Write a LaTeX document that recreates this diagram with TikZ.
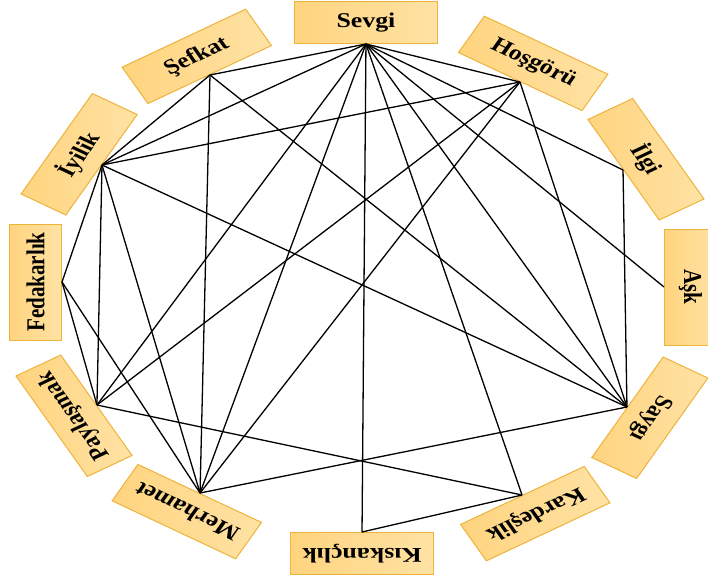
\documentclass[tikz,border=0pt]{standalone}
\usepackage{fontspec}
\setmainfont{Liberation Serif}
\definecolor{boxedge}{HTML}{EDB33B}
\definecolor{boxA}{HTML}{FFD47F}
\definecolor{boxB}{HTML}{FFE2A4}
\begin{document}
\begin{tikzpicture}[x=1pt,y=-1pt,
  lbl/.style={draw=boxedge, line width=1pt, left color=boxA, right color=boxB,
    minimum width=116pt, minimum height=42pt, inner sep=0pt, anchor=south,
    font=\fontsize{21}{21}\selectfont\bfseries, text=black},
  link/.style={line width=1.3pt, draw=black}]
\useasboundingbox (0,0) rectangle (708,580);
\begin{scope}[shift={(363,288)}, xscale=1.23, transform shape]
  \node[lbl, rotate=0]    (sev) at (2.4,-244)    {Sevgi};
  \node[lbl, rotate=-30]  (hos) at (127.6,-206)  {Hoşgörü};
  \node[lbl, rotate=-60]  (ilg) at (211.4,-118)  {İlgi};
  \node[lbl, rotate=-90]  (ask) at (244.7,-1)    {Aşk};
  \node[lbl, rotate=-120] (say) at (214.6,119)   {Saygı};
  \node[lbl, rotate=-150] (kar) at (129.3,207)   {Kardeşlik};
  \node[lbl, rotate=180]  (kis) at (-0.8,244)    {Kıskançlık};
  \node[lbl, rotate=150]  (mer) at (-132.5,205)  {Merhamet};
  \node[lbl, rotate=120]  (pay) at (-216.3,117)  {Paylaşmak};
  \node[lbl, rotate=90]   (fed) at (-244.7,-6)   {Fedakarlık};
  \node[lbl, rotate=60]   (iyi) at (-212.2,-123) {İyilik};
  \node[lbl, rotate=30]   (sef) at (-124.4,-213) {Şefkat};
\end{scope}
\foreach \a/\b in {sev/sef, sev/hos, sev/ilg, sev/ask, sev/say, sev/kar, sev/kis,
  sev/mer, sev/pay, sev/iyi, sef/iyi, sef/mer, sef/say, hos/iyi, hos/pay, hos/mer,
  hos/say, ilg/say, iyi/fed, iyi/pay, iyi/mer, iyi/say, fed/pay, fed/mer, pay/kar,
  mer/say, kar/kis}
  \draw[link] (\a.south) -- (\b.south);
\end{tikzpicture}
\end{document}
